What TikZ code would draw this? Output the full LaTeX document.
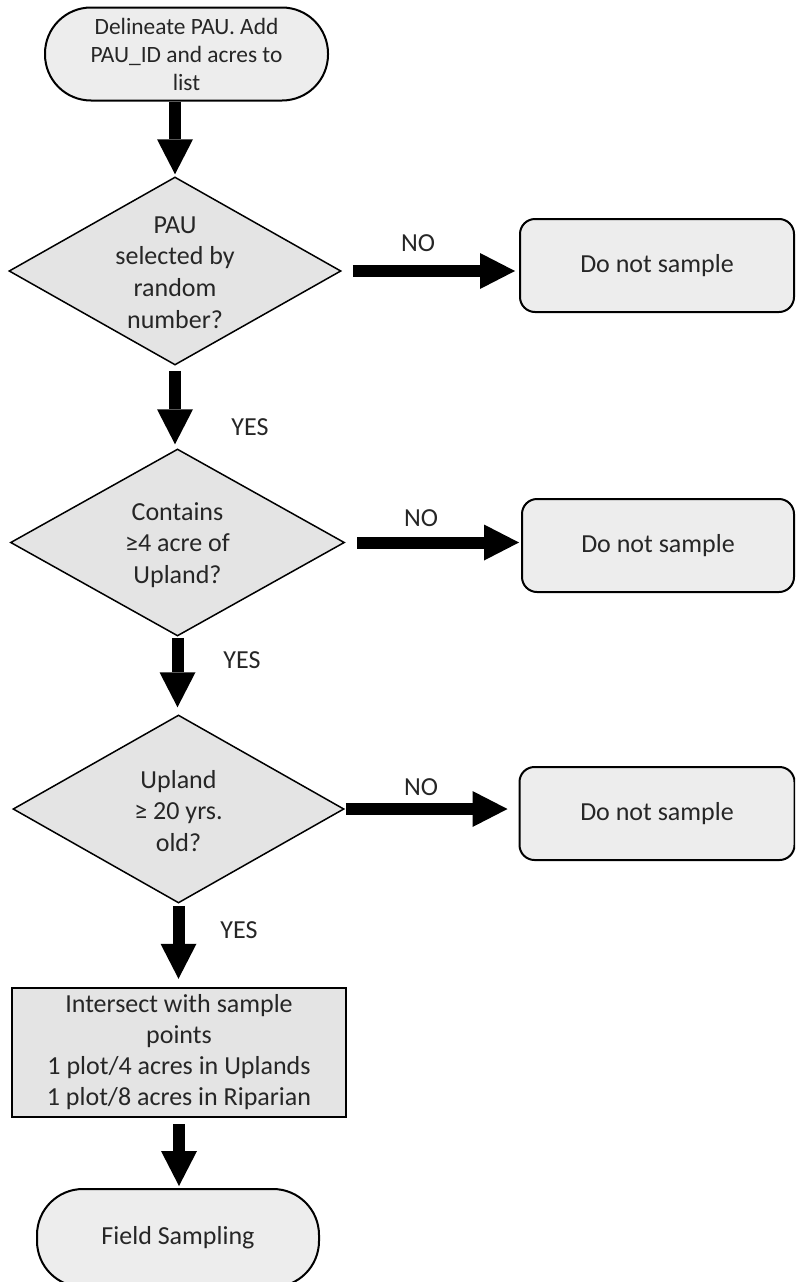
\documentclass[tikz,border=0pt]{standalone}
\usepackage{fontspec}
\setmainfont{Carlito}
\usetikzlibrary{shapes.geometric,arrows.meta}
\definecolor{boxfill}{HTML}{EDEDED}
\definecolor{shapefill}{HTML}{E4E4E4}
\definecolor{txt}{HTML}{262626}
\begin{document}
\begin{tikzpicture}[x=1pt,y=-1pt,
  lbl/.style={text=txt,font=\fontsize{26}{31.7}\selectfont,align=center,inner sep=0pt},
  terminal/.style={draw=black,line width=2pt,fill=boxfill,rounded corners=46pt,inner sep=0pt,
    text=txt,align=center},
  decision/.style={draw=black,line width=1.5pt,fill=shapefill,diamond,inner sep=0pt},
  stopbox/.style={draw=black,line width=2pt,fill=boxfill,rounded corners=15pt,minimum height=93pt,
    inner sep=0pt,text=txt,font=\fontsize{26}{31.7}\selectfont},
  procbox/.style={draw=black,line width=2.5pt,fill=shapefill,inner sep=0pt,text=txt,align=center,
    font=\fontsize{26}{31}\selectfont},
  blockarrow/.style={line width=12pt,-{Triangle[width=36pt,length=35pt,line width=0pt]}}
]
\useasboundingbox (0,0) rectangle (795,1282);
\clip (0,0) rectangle (795,1282);

% nodes
\node[terminal,minimum width=283pt,minimum height=93pt,font=\fontsize{23.4}{28}\selectfont] (t1) at (186.5,54)
  {Delineate PAU. Add\\PAU\_ID and acres to\\list};

\node[decision,minimum width=332pt,minimum height=188pt] (d1) at (175,271) {};
\node[lbl] (d1t) at (175,272.5) {PAU\\selected by\\random\\number?};

\node[stopbox,minimum width=274pt] (n1) at (657,265.5) {Do not sample};

\node[decision,minimum width=334pt,minimum height=187pt] (d2) at (177.5,542.5) {};
\node[lbl] (d2t) at (177.5,545) {Contains\\≥4 acre of\\Upland?};

\node[stopbox,minimum width=272pt] (n2) at (658,545.5) {Do not sample};

\node[decision,minimum width=331pt,minimum height=188pt] (d3) at (178.5,809) {};
\node[lbl] (d3t) at (178.5,811) {Upland\\≥ 20 yrs.\\old?};

\node[stopbox,minimum width=275pt] (n3) at (657,813.5) {Do not sample};

\node[procbox,minimum width=334pt,minimum height=129pt] (r) at (179,1052.5)
  {Intersect with sample\\points\\1 plot/4 acres in Uplands\\1 plot/8 acres in Riparian};

\node[terminal,minimum width=282pt,minimum height=98pt,font=\fontsize{26}{31.7}\selectfont] (t2) at (178,1238)
  {Field Sampling};

% labels
\node[lbl] (no1) at (418,243) {NO};
\node[lbl] (no2) at (421,518) {NO};
\node[lbl] (no3) at (421,787) {NO};
\node[lbl] (yes1) at (250,427) {YES};
\node[lbl] (yes2) at (242,660) {YES};
\node[lbl] (yes3) at (239,930) {YES};

% connectors
\draw[blockarrow,shorten >=2pt] (t1.south -| d1.north) -- (d1.north);
\draw[blockarrow,shorten <=11pt,shorten >=4pt] (d1.east) -- (d1.east -| n1.west);
\draw[blockarrow,shorten <=5pt,shorten >=4pt] (d1.south) -- (d1.south |- d2.north);
\draw[blockarrow,shorten <=12pt,shorten >=2pt] (d2.east) -- (d2.east -| n2.west);
\draw[blockarrow,shorten <=1pt,shorten >=7pt] (d2.south) -- (d2.south |- d3.north);
\draw[blockarrow,shorten <=1pt,shorten >=11pt] (d3.east) -- (d3.east -| n3.west);
\draw[blockarrow,shorten <=2pt,shorten >=8pt] (d3.south) -- (d3.south |- r.north);
\draw[blockarrow,shorten <=6pt,shorten >=2pt] (r.south) -- (r.south |- t2.north);
\end{tikzpicture}
\end{document}
